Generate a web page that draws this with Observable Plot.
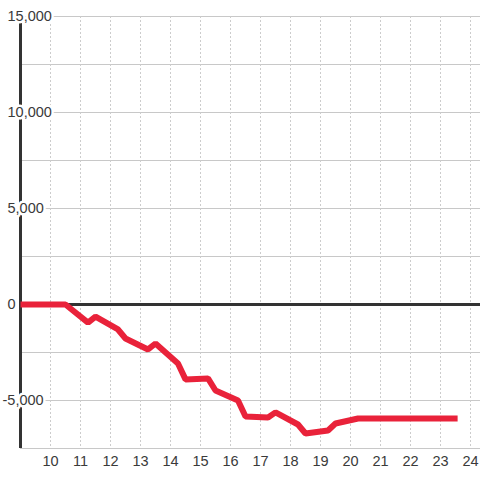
<!DOCTYPE html>
<html>
<head>
<meta charset="utf-8">
<script src="https://cdn.jsdelivr.net/npm/d3@7"></script>
<script src="https://cdn.jsdelivr.net/npm/@observablehq/plot@0.6"></script>
<style>
  html, body { margin: 0; padding: 0; background: #fff; }
  #chart { width: 480px; height: 480px; }
</style>
</head>
<body>
<div id="chart"></div>
<script>
// Data
const hours = [9, 10.5, 11.25, 11.5, 12.25, 12.5, 13.25, 13.5, 14.25, 14.5, 15.25, 15.5, 16.25, 16.5, 17.25, 17.5, 18.25, 18.5, 19.25, 19.5, 20.25, 23.57];
const values = [0, 0, -940, -630, -1300, -1770, -2340, -2030, -3070, -3900, -3850, -4480, -5000, -5830, -5890, -5620, -6250, -6720, -6560, -6200, -5940, -5940];
const xTicks = [10, 11, 12, 13, 14, 15, 16, 17, 18, 19, 20, 21, 22, 23, 24];
const yGrid = [-7500, -5000, -2500, 0, 2500, 5000, 7500, 10000, 12500, 15000];
const yLabelsPos = [0, 5000, 10000, 15000];
const yLabelsNeg = [-5000];

const series = hours.map((h, i) => ({h, v: values[i]}));
const fmt = d3.format(",");
const font = "'Liberation Sans', Arial, sans-serif";

const chart = Plot.plot({
  width: 480,
  height: 480,
  marginLeft: 20,
  marginRight: 0,
  marginTop: 16,
  marginBottom: 32,
  style: {background: "#fff", fontFamily: font},
  x: {domain: [9, 24.333], axis: null},
  y: {domain: [-7500, 15000], axis: null},
  marks: [
    Plot.ruleY(yGrid, {stroke: "#c8c8c8", strokeWidth: 1}),
    Plot.ruleX(xTicks, {stroke: "#cccccc", strokeWidth: 1, strokeDasharray: "2,2"}),
    Plot.ruleY([0], {stroke: "#333", strokeWidth: 3}),
    Plot.ruleX([9], {y1: -7500, y2: 15000, stroke: "#333", strokeWidth: 3}),
    Plot.line(series, {x: "h", y: "v", stroke: "#e9223a", strokeWidth: 6, strokeLinejoin: "miter", strokeLinecap: "butt"}),
    Plot.text(yLabelsPos, {frameAnchor: "left", y: d => d, text: d => fmt(d), textAnchor: "start", dx: -13, fontSize: 14.5, fill: "#3a3a3a", stroke: "#fff", strokeWidth: 5, paintOrder: "stroke"}),
    Plot.text(yLabelsNeg, {frameAnchor: "left", y: d => d, text: d => "-" + fmt(-d), textAnchor: "start", dx: -18, fontSize: 14.5, fill: "#3a3a3a", stroke: "#fff", strokeWidth: 5, paintOrder: "stroke"}),
    Plot.text(xTicks, {frameAnchor: "bottom", x: d => d, text: d => String(d), dy: 13, lineAnchor: "middle", fontSize: 14.5, fill: "#3a3a3a"})
  ]
});
document.getElementById("chart").appendChild(chart);
</script>
</body>
</html>
